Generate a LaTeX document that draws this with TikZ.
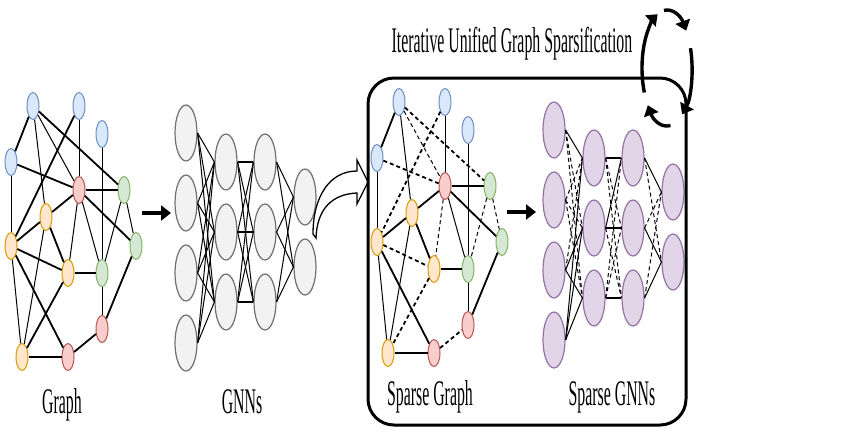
\documentclass[tikz,border=0pt]{standalone}
\usepackage{fontspec}
\setmainfont{Liberation Serif}[FakeStretch=0.44]
\usepackage{tikz}
\usetikzlibrary{shapes.geometric,arrows.meta}
\definecolor{gb-fill}{HTML}{DAE8FC}
\definecolor{gb-line}{HTML}{6C8EBF}
\definecolor{gr-fill}{HTML}{F8CECC}
\definecolor{gr-line}{HTML}{B85450}
\definecolor{gg-fill}{HTML}{D5E8D4}
\definecolor{gg-line}{HTML}{82B366}
\definecolor{gy-fill}{HTML}{FFE6CC}
\definecolor{gy-line}{HTML}{D79B00}
\definecolor{nn-fill}{HTML}{F2F2F2}
\definecolor{nn-line}{HTML}{707070}
\definecolor{sp-fill}{HTML}{E1D5E7}
\definecolor{sp-line}{HTML}{9673A6}

\begin{document}
\begin{tikzpicture}[x=1pt, y=-1pt,
    vtx/.style={ellipse, line width=1pt, minimum width=12pt, minimum height=27pt, inner sep=0pt},
    vblue/.style={fill=gb-fill, draw=gb-line},
    vred/.style={fill=gr-fill, draw=gr-line},
    vgreen/.style={fill=gg-fill, draw=gg-line},
    vyellow/.style={fill=gy-fill, draw=gy-line},
    neuron/.style={ellipse, line width=1.2pt, minimum width=22pt, minimum height=56pt, inner sep=0pt},
    dense/.style={neuron, fill=nn-fill, draw=nn-line},
    sparse/.style={neuron, fill=sp-fill, draw=sp-line},
    ethin/.style={line width=1pt},
    ethick/.style={line width=1.8pt},
    keep/.style={},
    cut/.style={dash pattern=on 4pt off 3pt},
    push/.style={line width=4pt, -{Triangle[length=10pt,width=15pt]}},
    cyc/.style={line width=3.4pt, -{Triangle[length=10pt,width=15pt]}},
    caption/.style={font=\fontsize{36}{40}\selectfont, anchor=base}
]
\useasboundingbox (0,0) rectangle (864,432);

% graph and its sparse copy
\foreach \n/\x/\y/\c in {B1/33/106/vblue, B2/79/106/vblue, B3/102/134/vblue, B4/11/162/vblue,
    R1/79/190/vred, G1/124/190/vgreen, Y1/46/217/vyellow, Y2/11/246/vyellow,
    G2/136/246/vgreen, Y3/68/273/vyellow, G3/102/273/vgreen, R2/102/329/vred,
    Y4/22/357/vyellow, R3/68/357/vred} {
  \node[vtx, \c] (g-\n) at (\x,\y) {};
  \node[vtx, \c] (s-\n) at (\x+366,\y-4) {};
}
\foreach \a/\b/\w/\s in {B1/B4/ethick/keep, B1/Y1/ethin/keep, B1/R1/ethin/cut, B1/G1/ethick/cut,
    B2/Y2/ethick/cut, B2/R1/ethin/keep, B3/G3/ethin/keep, B4/R1/ethick/cut,
    B4/Y2/ethin/keep, R1/G1/ethick/keep, R1/Y1/ethick/keep, R1/G2/ethick/keep,
    R1/G3/ethin/keep, R1/Y3/ethin/cut, G1/G2/ethin/cut, G1/G3/ethin/cut,
    Y2/Y1/ethick/keep, Y2/Y3/ethick/cut, Y2/Y4/ethin/keep, Y2/R3/ethick/keep,
    Y1/Y3/ethick/keep, Y1/Y4/ethin/keep, Y3/G3/ethick/keep, Y3/Y4/ethick/cut,
    Y4/R3/ethick/keep, R3/R2/ethick/cut, R2/G3/ethin/keep, R2/G2/ethick/keep} {
  \draw[\w] (g-\a) -- (g-\b);
  \draw[\w, \s] (s-\a) -- (s-\b);
}

% GNNs
\foreach \i/\y in {1/133, 2/203, 3/273, 4/343} {
  \node[dense] (n-a\i) at (186,\y) {};
  \node[sparse] (m-a\i) at (554,\y-3) {};
}
\foreach \i/\y in {1/162, 2/232, 3/302} {
  \node[dense] (n-b\i) at (226,\y) {};
  \node[dense] (n-c\i) at (265,\y) {};
  \node[sparse] (m-b\i) at (594,\y-4) {};
  \node[sparse] (m-c\i) at (633,\y-4) {};
}
\foreach \i/\y in {1/197, 2/267} {
  \node[dense] (n-d\i) at (305,\y) {};
  \node[sparse] (m-d\i) at (673,\y-5) {};
}
\foreach \i in {1,...,4} \foreach \j in {1,2,3} \draw[ethin] (n-a\i.east) -- (n-b\j.west);
\foreach \i in {1,2,3} \foreach \j in {1,2,3} \draw[ethin] (n-b\i.east) -- (n-c\j.west);
\foreach \i in {1,2,3} \draw[ethick] (n-b\i.east) -- (n-c\i.west);
\foreach \i in {1,2,3} \foreach \j in {1,2} \draw[ethin] (n-c\i.east) -- (n-d\j.west);

\foreach \i/\j/\s in {1/1/keep, 1/2/cut, 1/3/cut, 2/1/cut, 2/2/cut, 2/3/cut,
    3/1/cut, 3/2/keep, 3/3/keep, 4/1/keep, 4/2/keep, 4/3/keep}
  \draw[ethin, \s] (m-a\i.east) -- (m-b\j.west);
\foreach \i/\j/\s in {1/2/cut, 1/3/cut, 2/1/keep, 2/3/cut, 3/1/cut, 3/2/cut}
  \draw[ethin, \s] (m-b\i.east) -- (m-c\j.west);
\foreach \i in {1,2,3} \draw[ethick] (m-b\i.east) -- (m-c\i.west);
\foreach \i/\j/\s in {1/1/keep, 1/2/cut, 2/1/cut, 2/2/keep, 3/1/cut, 3/2/keep}
  \draw[ethin, \s] (m-c\i.east) -- (m-d\j.west);

% arrows
\coordinate (p1) at (142,213);
\coordinate (p2) at (171,213);
\coordinate (q1) at (507,212);
\coordinate (q2) at (536,212);
\draw[push] (p1) -- (p2);
\draw[push] (q1) -- (q2);
\draw[line width=1.3pt, fill=white, line join=miter] (316,238)
  .. controls (317,208) and (333,194) .. (357,193) -- (357,204) -- (368,182)
  -- (357,160) -- (357,171) .. controls (330,171) and (313,196) .. (313,234) -- cycle;

% frame
\draw[line width=3pt, rounded corners=26pt] (368,78) rectangle (686,425);

% iteration cycle
\coordinate (cc) at (667,68);
\draw[cyc] ([shift={(155:25 and 58)}]cc) arc[start angle=155, end angle=248, x radius=25, y radius=58];
\draw[cyc] ([shift={(263:25 and 58)}]cc) arc[start angle=263, end angle=320, x radius=25, y radius=58];
\draw[cyc] ([shift={(340:25 and 58)}]cc) arc[start angle=340, end angle=413, x radius=25, y radius=58];
\draw[cyc] ([shift={(82:25 and 58)}]cc) arc[start angle=82, end angle=140, x radius=25, y radius=58];

% texts
\node[caption] (title) at (512,52) {Iterative Unified Graph Sparsification};
\node[caption] (cap-g) at (62,413) {Graph};
\node[caption] (cap-n) at (242,413) {GNNs};
\node[caption] (cap-s) at (430,405) {Sparse Graph};
\node[caption] (cap-m) at (612,405) {Sparse GNNs};
\end{tikzpicture}
\end{document}
